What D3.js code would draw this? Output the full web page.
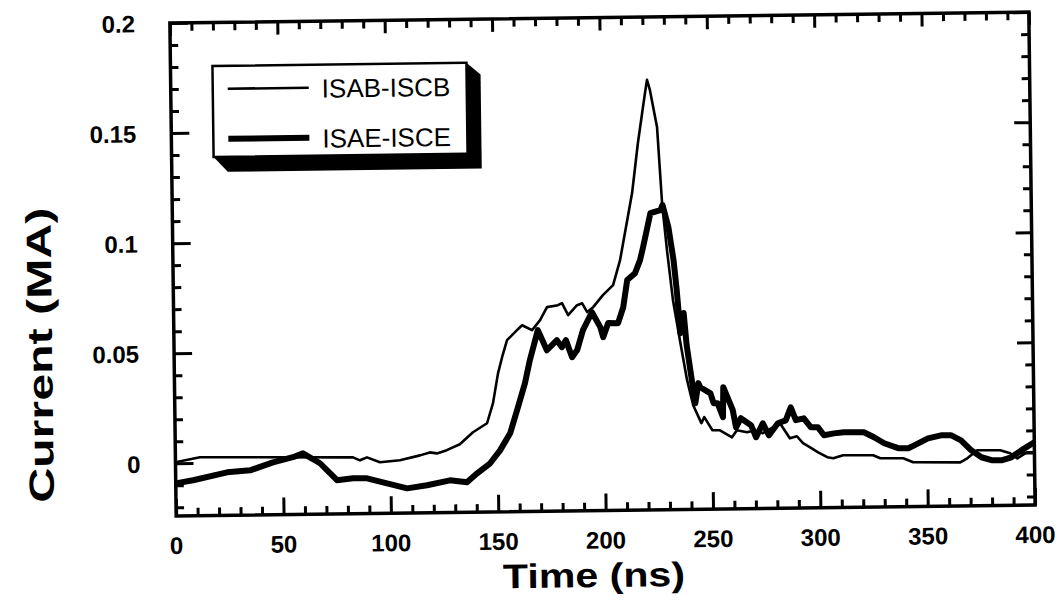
<!DOCTYPE html>
<html>
<head>
<meta charset="utf-8">
<script src="https://cdn.jsdelivr.net/npm/d3@7"></script>
<style>
  body { margin: 0; background: #fff; }
  svg { display: block; }
  text { font-family: "Liberation Sans", Arial, sans-serif; fill: #000; }
</style>
</head>
<body>
<div id="chart"></div>
<script>
// ISAB-ISCB (thin line)
const isabTime = [0, 11.4, 82.7, 85.9, 89.2, 95.2, 104.5, 113.9, 118.5, 121.8, 126.4, 132.5, 138.7, 145.3, 148.2, 150.7, 152.7, 155.1, 159.8, 162.2,
  166.8, 170.6, 173.9, 179.0, 180.9, 183.7, 187.9, 190.3, 192.6, 195.4, 200.0, 204.8, 208.2, 214.2, 217.2, 220.8, 221.8, 223.1, 226.2, 228.1,
  230.1, 232.6, 235.6, 238.7, 241.4, 245.1, 246.5, 250.2, 253.5, 259.3, 261.6, 266.3, 270.0, 273.7, 278.4, 281.7, 286.2, 289.5, 292.3, 295.6,
  299.3, 303.5, 306.3, 310.9, 324.9, 328.2, 338.9, 343.5, 365.4, 368.7, 373.4, 384.1, 388.7, 392.0, 396.6, 400];
const isabCurrent = [0.0005, 0.0026, 0.0017, 0.0003, 0.0016, -0.0007, 0.0001, 0.0022, 0.0035, 0.003, 0.0044, 0.007, 0.0124, 0.0164, 0.0255, 0.039, 0.0463, 0.054, 0.0585, 0.0607,
  0.0584, 0.0629, 0.0688, 0.0696, 0.0705, 0.065, 0.0695, 0.0703, 0.0663, 0.0685, 0.0739, 0.0784, 0.0897, 0.1201, 0.1428, 0.1655, 0.1714, 0.1668, 0.15, 0.1154,
  0.094, 0.0712, 0.053, 0.0348, 0.0234, 0.0152, 0.0179, 0.0119, 0.0119, 0.0086, 0.0118, 0.0108, 0.0117, 0.0103, 0.0129, 0.0147, 0.0078, 0.0087, 0.0055, 0.0036,
  0.0013, -0.001, -0.0015, -0.0002, -0.0004, -0.0018, -0.0019, -0.0038, -0.0041, -0.0023, 0.0013, 0.0012, -0.0003, -0.0026, 0.0001, 0.0];

// ISAE-ISCE (thick line)
const isaeTime = [0, 8.1, 24, 34.7, 45.4, 54.7, 59.4, 67.3, 75.1, 82.6, 89.1, 98.4, 107.7, 117.0, 127.7, 135.6, 140.4, 146.5, 151.2, 156.0,
  159.8, 163.2, 165.6, 169.5, 173.6, 178.3, 180.6, 182.5, 185.3, 187.7, 190.5, 194.8, 198.6, 199.9, 202.3, 206.9, 209.4, 211.4, 215.1, 217.5,
  219.0, 222.6, 227.3, 228.3, 230.9, 233.1, 234.4, 235.9, 237.5, 238.7, 241.1, 242.4, 243.9, 244.8, 249.5, 250.9, 252.8, 255.2, 255.5, 259.8,
  261.2, 263.5, 268.2, 270.5, 273.7, 276.5, 280.7, 284.4, 286.8, 289.1, 292.8, 296.1, 299.3, 302.1, 306.8, 311.4, 320.7, 325.4, 330.1, 336.6,
  341.3, 344.1, 350.5, 356.6, 361.2, 365.9, 370.6, 375.3, 380.0, 384.6, 389.2, 393.9, 400];
const isaeCurrent = [-0.0091, -0.0078, -0.0044, -0.0036, -0.0001, 0.0021, 0.0038, -0.0008, -0.0086, -0.0078, -0.0079, -0.0103, -0.0127, -0.0114, -0.0093, -0.0103, -0.0063, -0.0018, 0.004, 0.0117,
  0.0235, 0.0344, 0.0448, 0.0584, 0.0492, 0.0537, 0.0505, 0.0537, 0.0459, 0.0491, 0.0581, 0.0662, 0.0594, 0.0548, 0.0612, 0.0611, 0.0683, 0.0806, 0.0837, 0.0896,
  0.0955, 0.1109, 0.1122, 0.1145, 0.1044, 0.0894, 0.0758, 0.0562, 0.0653, 0.0507, 0.0334, 0.0243, 0.0334, 0.0315, 0.0287, 0.0242, 0.0241, 0.0178, 0.0314, 0.0209,
  0.0131, 0.0172, 0.014, 0.0085, 0.0148, 0.0093, 0.0147, 0.016, 0.0219, 0.016, 0.0168, 0.0127, 0.0127, 0.009, 0.0098, 0.0102, 0.0101, 0.0078, 0.005, 0.0027,
  0.0026, 0.0039, 0.007, 0.0083, 0.0083, 0.0059, 0.0013, -0.0019, -0.0033, -0.0034, -0.0021, 0.001, 0.0046];

const xTicks = [0, 50, 100, 150, 200, 250, 300, 350, 400];
const xTickLabels = ["0", "50", "100", "150", "200", "250", "300", "350", "400"];
const yTicks = [0, 0.05, 0.1, 0.15, 0.2];
const yTickLabels = ["0", "0.05", "0.1", "0.15", "0.2"];
const seriesNames = ["ISAB-ISCB", "ISAE-ISCE"];

//Setup Dimensions
const width = 1058, height = 610;
const plotLeft = 173, plotRight = 1032, plotTop = 17.5, plotBottom = 510.5;

const svg = d3.select("#chart").append("svg")
  .attr("width", width)
  .attr("height", height);

// the scanned page is tilted a little
const g = svg.append("g")
  .attr("transform", `rotate(-0.73, ${(plotLeft + plotRight) / 2}, ${(plotTop + plotBottom) / 2 + 0.5})`);

const x = d3.scaleLinear().domain([0, 400]).range([plotLeft, plotRight]);
const y = d3.scaleLinear().domain([-0.0239, 0.2]).range([plotBottom, plotTop]);

//Series lines
const line = d3.line()
  .x(d => x(d[0]))
  .y(d => y(d[1]));

g.append("path")
  .datum(d3.zip(isabTime, isabCurrent))
  .attr("d", line)
  .attr("fill", "none")
  .attr("stroke", "#000")
  .attr("stroke-width", 2.6)
  .attr("stroke-linejoin", "round");

g.append("path")
  .datum(d3.zip(isaeTime, isaeCurrent))
  .attr("d", line)
  .attr("fill", "none")
  .attr("stroke", "#000")
  .attr("stroke-width", 6)
  .attr("stroke-linejoin", "round");

//Ticks on all four sides, pointing in
const xMinor = d3.range(0, 401, 10).filter(v => v % 50 !== 0);
const yMinor = d3.range(-2, 21).filter(v => v % 5 !== 0).map(v => v / 100);

function styleAxis(sel) {
  sel.select(".domain").remove();
  sel.selectAll(".tick line").attr("stroke", "#000").attr("stroke-width", 3);
  sel.selectAll(".tick text").remove();
}

g.append("g").attr("transform", `translate(0,${plotBottom})`)
  .call(d3.axisBottom(x).tickValues(xTicks).tickSize(-17)).call(styleAxis);
g.append("g").attr("transform", `translate(0,${plotBottom})`)
  .call(d3.axisBottom(x).tickValues(xMinor).tickSize(-8)).call(styleAxis);
g.append("g").attr("transform", `translate(0,${plotTop})`)
  .call(d3.axisTop(x).tickValues(xTicks).tickSize(-13)).call(styleAxis);
g.append("g").attr("transform", `translate(0,${plotTop})`)
  .call(d3.axisTop(x).tickValues(xMinor).tickSize(-8)).call(styleAxis);
g.append("g").attr("transform", `translate(${plotLeft},0)`)
  .call(d3.axisLeft(y).tickValues(yTicks).tickSize(-18)).call(styleAxis);
g.append("g").attr("transform", `translate(${plotLeft},0)`)
  .call(d3.axisLeft(y).tickValues(yMinor).tickSize(-8)).call(styleAxis);
g.append("g").attr("transform", `translate(${plotRight},0)`)
  .call(d3.axisRight(y).tickValues(yTicks).tickSize(-16)).call(styleAxis);
g.append("g").attr("transform", `translate(${plotRight},0)`)
  .call(d3.axisRight(y).tickValues(yMinor).tickSize(-8)).call(styleAxis);

//Frame
g.append("rect")
  .attr("x", plotLeft).attr("y", plotTop)
  .attr("width", plotRight - plotLeft).attr("height", plotBottom - plotTop)
  .attr("fill", "none")
  .attr("stroke", "#000")
  .attr("stroke-width", 3.5);

//Tick labels
g.selectAll(".xlab").data(xTicks).enter().append("text")
  .attr("class", "xlab")
  .attr("x", d => x(d))
  .attr("y", plotBottom + 38)
  .attr("text-anchor", "middle")
  .style("font-size", "24px")
  .style("font-weight", "bold")
  .text((d, i) => xTickLabels[i]);

g.selectAll(".ylab").data(yTicks).enter().append("text")
  .attr("class", "ylab")
  .attr("x", plotLeft - 35)
  .attr("y", d => y(d) + 9)
  .attr("text-anchor", "end")
  .style("font-size", "24px")
  .style("font-weight", "bold")
  .text((d, i) => yTickLabels[i]);

//Axis titles
g.append("text")
  .attr("x", 590).attr("y", 587)
  .attr("text-anchor", "middle")
  .attr("textLength", 182)
  .attr("lengthAdjust", "spacingAndGlyphs")
  .style("font-size", "34px")
  .style("font-weight", "bold")
  .text("Time (ns)");

g.append("text")
  .attr("transform", "translate(51,348) rotate(-90)")
  .attr("text-anchor", "middle")
  .attr("textLength", 295)
  .attr("lengthAdjust", "spacingAndGlyphs")
  .style("font-size", "35px")
  .style("font-weight", "bold")
  .text("Current (MA)");

//Legend box with drop shadow
const lg = g.append("g");
const bx0 = 215, by0 = 61, bx1 = 469, by1 = 152;
lg.append("path")
  .attr("d", `M${bx1},${by0} L${bx1 + 14},${by0 + 12} L${bx1 + 14},${by1 + 15} L${bx0 + 14},${by1 + 15} L${bx0},${by1} Z`)
  .attr("fill", "#000");
lg.append("rect")
  .attr("x", bx0).attr("y", by0)
  .attr("width", bx1 - bx0).attr("height", by1 - by0)
  .attr("fill", "#fff")
  .attr("stroke", "#000")
  .attr("stroke-width", 2.5);

const legendRows = [
  { name: seriesNames[0], w: 2.6, y: 84 },
  { name: seriesNames[1], w: 6, y: 134 }
];
lg.selectAll(".lline").data(legendRows).enter().append("line")
  .attr("x1", 230).attr("x2", 311)
  .attr("y1", d => d.y).attr("y2", d => d.y)
  .attr("stroke", "#000")
  .attr("stroke-width", d => d.w);
lg.selectAll(".ltext").data(legendRows).enter().append("text")
  .attr("x", 324)
  .attr("y", d => d.y + 10)
  .style("font-size", "26px")
  .text(d => d.name);
</script>
</body>
</html>
